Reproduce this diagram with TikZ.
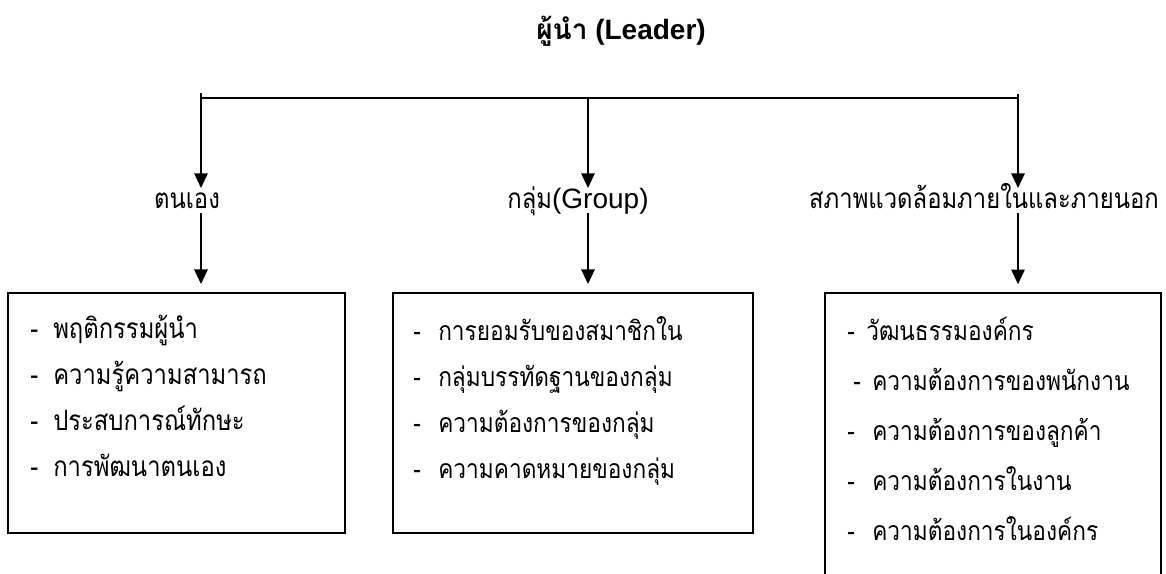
\documentclass[tikz,border=0pt]{standalone}
\usepackage{fontspec}
\setmainfont{Liberation Sans}
\newfontfamily\thai[Script=Thai]{Loma}
\newfontfamily\thaiN[Script=Thai,FakeStretch=0.85]{Loma}
\IfFontExistsTF{Kinnari}{\newfontfamily\thaiS[Script=Thai]{Kinnari}\def\thaiSsize{22}}{\newfontfamily\thaiS[Script=Thai,FakeStretch=0.85]{Loma}\def\thaiSsize{20}}
\usetikzlibrary{arrows.meta}
\begin{document}
\begin{tikzpicture}[x=0.75pt,y=-0.75pt,
  ln/.style={line width=1.4pt},
  arr/.style={ln,-{Triangle[length=11pt,width=10pt]}},
  boxst/.style={draw,ln,inner sep=0pt},
  txt/.style={inner sep=0pt,anchor=base west,font=\thaiN\fontsize{21}{24}\selectfont},
  txs/.style={inner sep=0pt,anchor=base west,font=\thaiS\fontsize{\thaiSsize}{24}\selectfont},
  lab/.style={inner sep=0pt,anchor=base,font=\fontsize{21}{24}\selectfont}]
\useasboundingbox (0,0) rectangle (1166,574);
\clip (0,0) rectangle (1166,574);
% title
\node[anchor=base,inner sep=0pt,font=\bfseries\fontsize{21}{24}\selectfont] (title) at (621,40) {{\thai ผู้นำ} (Leader)};
% labels
\node[lab] (lab1) at (187,208) {\thaiN ตนเอง};
\node[lab] (lab2) at (578,208) {{\thaiN กลุ่ม}(Group)};
\node[lab] (lab3) at (984,208) {\thaiN สภาพแวดล้อมภายในและภายนอก};
% boxes
\node[boxst,minimum width=252.75pt,minimum height=180pt] (box1) at (176.5,413) {};
\node[boxst,minimum width=270pt,minimum height=180pt] (box2) at (573,413) {};
\node[boxst,minimum width=252pt,minimum height=230pt] (box3) at (993,446.5) {};
% bus and arrows
\coordinate (bL) at (201,98);
\coordinate (bR) at (1018,98);
\coordinate (bM) at (588,98);
\coordinate (tL) at (201,93);
\coordinate (tR) at (1018,94);
\coordinate (e1) at (201,188);
\coordinate (e2) at (588,188);
\coordinate (e3) at (1018,188);
\coordinate (s1) at (201,213);
\coordinate (s2) at (588,213);
\coordinate (s3) at (1018,213);
\draw[ln] (bL) -- (bR);
\draw[arr] (tL) -- (e1);
\draw[arr] (bM) -- (e2);
\draw[arr] (tR) -- (e3);
\draw[arr,shorten >=6pt] (s1) -- (s1 |- box1.north);
\draw[arr,shorten >=6pt] (s2) -- (s2 |- box2.north);
\draw[arr,shorten >=6pt] (s3) -- (s3 |- box3.north);
% box 1 text
\node[txt] (d11) at (30,338) {-};
\node[txt] (t11) at (53,338) {พฤติกรรมผู้นำ};
\node[txt] (d12) at (30,384) {-};
\node[txt] (t12) at (53,384) {ความรู้ความสามารถ};
\node[txt] (d13) at (30,430) {-};
\node[txt] (t13) at (53,430) {ประสบการณ์ทักษะ};
\node[txt] (d14) at (30,476) {-};
\node[txt] (t14) at (53,476) {การพัฒนาตนเอง};
% box 2 text
\node[txs] (d21) at (413,340) {-};
\node[txs] (t21) at (438,340) {การยอมรับของสมาชิกใน};
\node[txs] (d22) at (413,386) {-};
\node[txs] (t22) at (438,386) {กลุ่มบรรทัดฐานของกลุ่ม};
\node[txs] (d23) at (413,432) {-};
\node[txs] (t23) at (438,432) {ความต้องการของกลุ่ม};
\node[txs] (d24) at (413,478) {-};
\node[txs] (t24) at (438,478) {ความคาดหมายของกลุ่ม};
% box 3 text
\node[txs] (d31) at (847,340) {-};
\node[txs] (t31) at (866,340) {วัฒนธรรมองค์กร};
\node[txs] (d32) at (853,390) {-};
\node[txs] (t32) at (872,390) {ความต้องการของพนักงาน};
\node[txs] (d33) at (847,440) {-};
\node[txs] (t33) at (872,440) {ความต้องการของลูกค้า};
\node[txs] (d34) at (847,490) {-};
\node[txs] (t34) at (872,490) {ความต้องการในงาน};
\node[txs] (d35) at (847,540) {-};
\node[txs] (t35) at (872,540) {ความต้องการในองค์กร};
\end{tikzpicture}
\end{document}
